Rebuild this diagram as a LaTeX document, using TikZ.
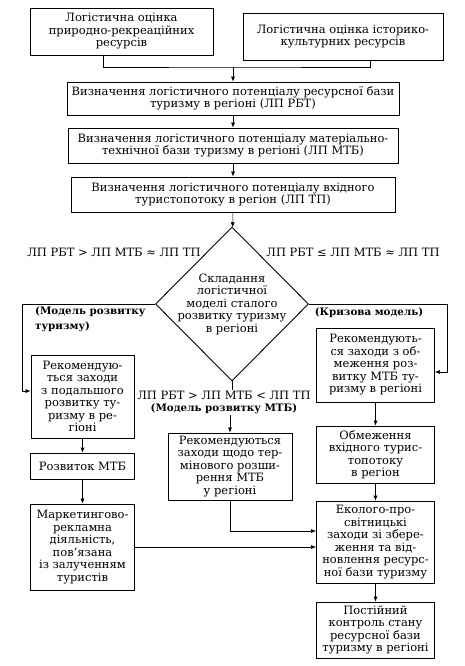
\documentclass[tikz,border=0pt]{standalone}
\usepackage{fontspec}
\setmainfont{DejaVu Serif}
\usetikzlibrary{arrows.meta,shapes.geometric,calc}
\def\BoxFont{\fontsize{11.5}{12.5}\selectfont}
\def\BoldFont{\fontsize{10.3}{12.5}\selectfont\bfseries}
\tikzset{
  blok/.style={draw, line width=0.9pt, align=center, inner sep=1pt, font=\BoxFont},
  napys/.style={align=center, inner sep=1pt, font=\BoxFont},
  zhyr/.style={napys, font=\BoldFont},
  romb/.style={draw, diamond, line width=0.9pt, inner sep=0pt},
  lin/.style={line width=0.5pt},
  str/.style={lin, -{Latex[length=5pt,width=4pt]}},
}
\begin{document}
\begin{tikzpicture}[x=1pt,y=-1pt]
  \useasboundingbox (0,0) rectangle (465,666);
  % top row
  \node[blok, minimum width=183pt, minimum height=47pt] (prr) at (121.5,31.5)
    {Логістична оцінка\\природно-рекреаційних\\ресурсів};
  \node[blok, minimum width=200pt, minimum height=47pt] (ikr) at (343,36.5)
    {Логістична оцінка історико-\\культурних ресурсів};
  \coordinate (jn) at (233,67);
  % potentials
  \node[blok, minimum width=332pt, minimum height=33pt] (rbt) at (233,98.5)
    {Визначення логістичного потенціалу ресурсної бази\\туризму в регіоні (ЛП РБТ)};
  \node[blok, minimum width=330pt, minimum height=35pt] (mtb) at (233,145.5)
    {Визначення логістичного потенціалу матеріально-\\технічної бази туризму в регіоні (ЛП МТБ)};
  \node[blok, minimum width=324pt, minimum height=35pt] (tp) at (233,194.5)
    {Визначення логістичного потенціалу вхідного\\туристопотоку в регіон (ЛП ТП)};
  % decision
  \node[romb, minimum width=153pt, minimum height=154pt] (dia) at (232,304) {};
  \node[napys] (diat) at (dia.center)
    {Складання\\логістичної\\моделі сталого\\розвитку туризму\\в регіоні};
  \node[napys] (uml) at (114,252) {ЛП РБТ > ЛП МТБ ≈ ЛП ТП};
  \node[napys] (umr) at (353,252) {ЛП РБТ ≤ ЛП МТБ ≈ ЛП ТП};
  \node[zhyr, align=left, anchor=west] (mrt) at (34,319) {(Модель розвитку\\[3pt]туризму)};
  \node[zhyr] (krm) at (369,313) {(Кризова модель)};
  \node[napys] (umc) at (224,402.5) {ЛП РБТ > ЛП МТБ < ЛП ТП\\{\BoldFont(Модель розвитку МТБ)}};
  % left column
  \node[blok, minimum width=103pt, minimum height=83pt] (rzt) at (82.5,396.5)
    {Рекомендую-\\ться заходи\\з подальшого\\розвитку ту-\\ризму в ре-\\гіоні};
  \node[blok, minimum width=104pt, minimum height=26pt] (rmtb) at (82.5,466) {Розвиток МТБ};
  \node[blok, minimum width=104pt, minimum height=86pt] (mrk) at (82.5,547)
    {Маркетингово-\\рекламна\\діяльність,\\пов'язана\\із залученням\\туристів};
  % middle column
  \node[blok, minimum width=124pt, minimum height=67pt] (rozsh) at (230,466.5)
    {Рекомендуються\\заходи щодо тер-\\мінового розши-\\рення МТБ\\у регіоні};
  % right column
  \node[blok, minimum width=118pt, minimum height=74pt] (obm) at (375.5,365)
    {Рекомендують-\\ся заходи з об-\\меження роз-\\витку МТБ ту-\\ризму в регіоні};
  \node[blok, minimum width=118pt, minimum height=57pt] (obtp) at (375.5,454.5)
    {Обмеження\\вхідного турис-\\топотоку\\в регіон};
  \node[blok, minimum width=118pt, minimum height=82pt] (eko) at (375.5,542)
    {Еколого-про-\\світницькі\\заходи зі збере-\\ження та від-\\новлення ресурс-\\ної бази туризму};
  \node[blok, minimum width=118pt, minimum height=56pt] (kontr) at (375.5,630)
    {Постійний\\контроль стану\\ресурсної бази\\туризму в регіоні};
  \coordinate (lk) at (22,391);
  \coordinate (rk) at (447,372);
  % connectors
  \draw[lin] ([xshift=-18.5pt]prr.south) |- (jn) -| ([xshift=27pt]ikr.south);
  \draw[str] (jn) -- (jn |- rbt.north);
  \draw[str] (rbt) -- (mtb);
  \draw[str] (mtb) -- (tp);
  \draw[str] (tp) -- (dia);
  \draw[str] (dia.west) -| (lk) -- (lk -| rzt.west);
  \draw[str] (dia.east) -| (rk) -- (rk -| obm.east);
  \draw[lin] (dia.south) -- (dia.south |- umc.north);
  \draw[str] (rozsh.north |- umc.south) -- (rozsh.north);
  \draw[str] (rzt) -- (rmtb);
  \draw[str] (rmtb) -- (mrk);
  \draw[str] (obm) -- (obtp);
  \draw[str] (obtp) -- (eko);
  \draw[str] (eko) -- (kontr);
  \draw[str] (rozsh.south) |- ([yshift=11pt]eko.west);
  \draw[str] (mrk.east) -- (mrk.east -| eko.west);
\end{tikzpicture}
\end{document}
